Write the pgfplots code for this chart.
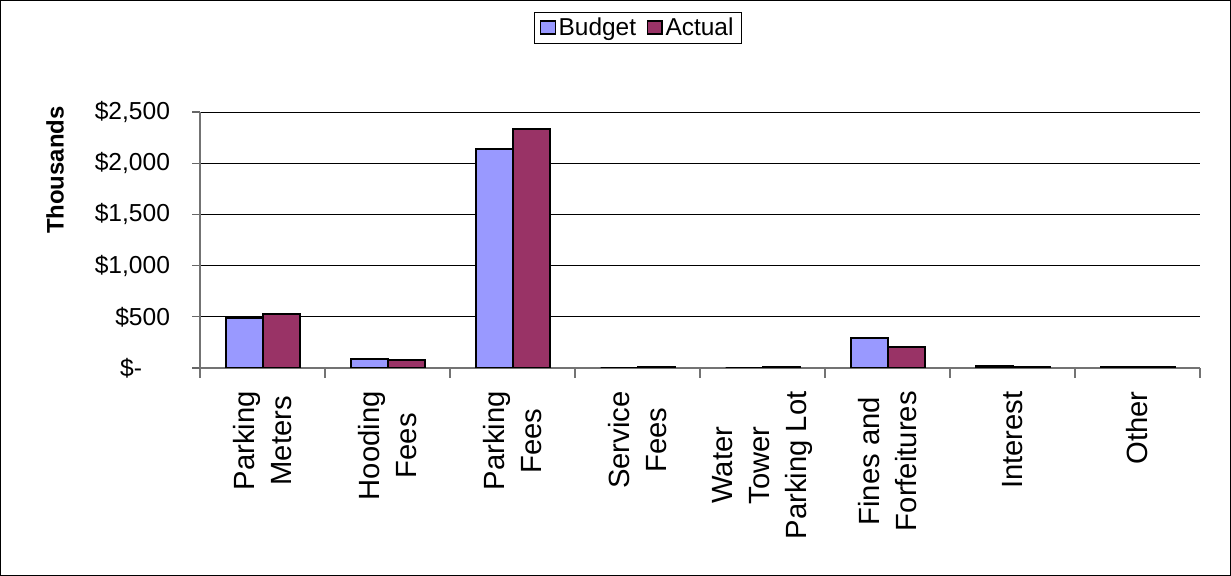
\documentclass[border=0pt]{standalone}
\usepackage{pgfplots}
\pgfplotsset{compat=1.18}
\usepackage{fontspec}
\setmainfont{Liberation Sans}
\definecolor{budget}{HTML}{9999FF}
\definecolor{actual}{HTML}{993366}
\begin{document}
\begin{tikzpicture}
\useasboundingbox (0,0) rectangle (923.25bp,432bp);
\draw[line width=0.8bp] (0.5bp,0.5bp) rectangle (922.75bp,431.5bp);
\begin{axis}[
  at={(150bp,156bp)}, anchor=south west,
  scale only axis,
  width=750bp, height=192bp,
  ybar=0pt, bar width=27.75bp,
  xmin=-0.5, xmax=7.5,
  ymin=0, ymax=2500,
  axis x line=bottom, axis y line=left,
  axis line style={-, line width=1.2bp, draw=black!55},
  ytick={0,500,1000,1500,2000,2500},
  yticklabels={{\$-\kern21bp},{\$500},{\$1,000},{\$1,500},{\$2,000},{\$2,500}},
  ymajorgrids, grid style={black, line width=0.6bp},
  tick align=outside,
  major tick length=6bp,
  minor tick length=7.5bp,
  xtick={0,...,7},
  major x tick style={draw=none},
  minor xtick={-0.5,0.5,...,7.5},
  minor x tick style={draw=black!55, line width=1bp},
  major y tick style={draw=black!60, line width=1bp},
  xticklabels={Parking\\Meters,Hooding\\Fees,Parking\\Fees,Service\\Fees,Water\\Tower\\Parking Lot,Fines and\\Forfeitures,Interest,Other},
  xticklabel style={rotate=90, anchor=east, align=center, font=\fontsize{22}{27.5}\selectfont, xshift=-8bp},
  yticklabel style={font=\fontsize{18.5}{22}\selectfont, xshift=-13bp},
  ylabel={Thousands},
  ylabel style={at={(rel axis cs:-0.145,0.773)}, anchor=center, rotate=0, font=\fontsize{18}{22}\selectfont\bfseries},
  legend style={at={(rel axis cs:0.438,1.39)}, anchor=north, draw=black, line width=0.8bp, fill=white,
    font=\fontsize{18.4}{22}\selectfont, legend columns=2, inner xsep=4bp, inner ysep=2bp,
    /tikz/every even column/.append style={column sep=6bp}},
]
\addplot[fill=budget, draw=black, line width=1.5bp,
  legend image code/.code={\draw[fill=budget,draw=black,line width=1.1bp] (0bp,-4.5bp) rectangle (11bp,5bp);}]
  coordinates {(0,489) (1,91) (2,2140) (3,0) (4,0) (5,290) (6,22) (7,12)};
\addplot[fill=actual, draw=black, line width=1.5bp,
  legend image code/.code={\draw[fill=actual,draw=black,line width=1.1bp] (0bp,-4.5bp) rectangle (11bp,5bp);}]
  coordinates {(0,531) (1,78) (2,2335) (3,5) (4,8) (5,202) (6,13) (7,10)};
\legend{Budget,Actual}
\end{axis}
\end{tikzpicture}
\end{document}
